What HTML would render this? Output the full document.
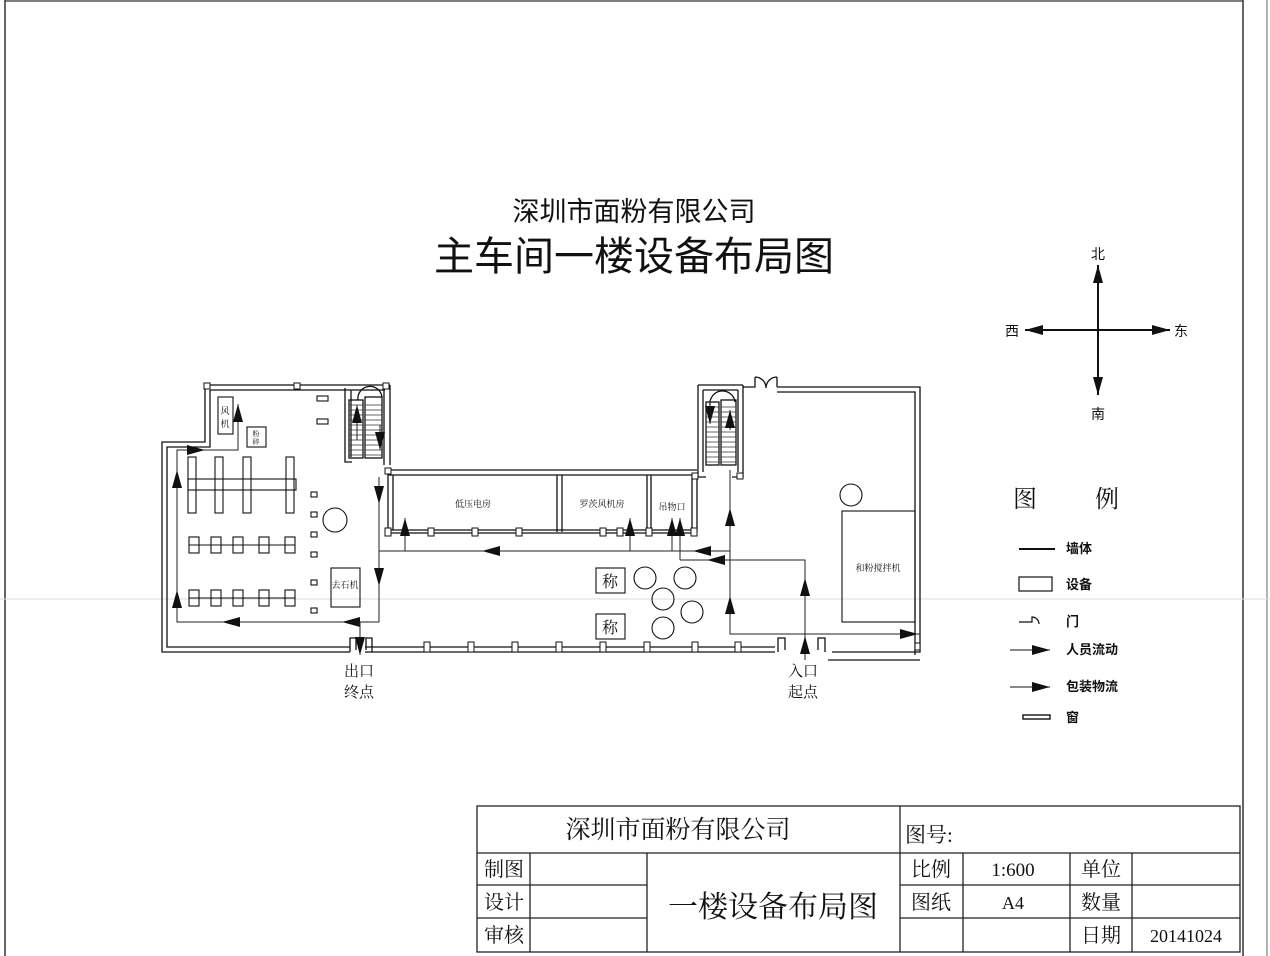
<!DOCTYPE html>
<html><head><meta charset="utf-8"><style>
html,body{margin:0;padding:0;background:#fff;}
svg{display:block;}
text{font-family:"Liberation Serif","Noto Serif CJK SC","Noto Sans CJK SC",serif;fill:#111;}
.s{font-family:"Liberation Sans","Noto Sans CJK SC",sans-serif;}
</style></head><body>
<svg width="1270" height="956" viewBox="0 0 1270 956" xmlns="http://www.w3.org/2000/svg">
<defs>
<marker id="b" markerWidth="18" markerHeight="10" refX="18" refY="5" orient="auto" markerUnits="userSpaceOnUse"><path d="M0,0 L18,5 L0,10 Z" fill="#111"/></marker>
</defs>
<line x1="5" y1="1" x2="1243" y2="1" stroke="#555" stroke-width="1.5"/>
<line x1="5" y1="0" x2="5" y2="956" stroke="#333" stroke-width="1.5"/>
<line x1="1243" y1="0" x2="1243" y2="956" stroke="#333" stroke-width="1.5"/>
<line x1="1267" y1="0" x2="1267" y2="956" stroke="#666" stroke-width="1"/>
<line x1="0" y1="599" x2="1270" y2="599" stroke="#ddd" stroke-width="1"/>

<text class="s" x="634" y="221" font-size="27" text-anchor="middle">深圳市面粉有限公司</text>
<text class="s" x="634" y="270" font-size="40" text-anchor="middle">主车间一楼设备布局图</text>

<g stroke="#111" stroke-width="2" fill="none">
<line x1="1098" y1="395" x2="1098" y2="265" marker-end="url(#b)"/>
<line x1="1098" y1="265" x2="1098" y2="395" marker-end="url(#b)"/>
<line x1="1170" y1="330" x2="1025" y2="330" marker-end="url(#b)"/>
<line x1="1025" y1="330" x2="1170" y2="330" marker-end="url(#b)"/>
</g>
<text class="s" x="1098" y="259" font-size="14" text-anchor="middle">北</text>
<text class="s" x="1098" y="419" font-size="14" text-anchor="middle">南</text>
<text class="s" x="1012" y="336" font-size="14" text-anchor="middle">西</text>
<text class="s" x="1181" y="336" font-size="14" text-anchor="middle">东</text>

<g fill="none" stroke="#111" stroke-width="1.3">
<path d="M205,385 H390 M205,385 V442 H162 V652 H350"/>
<path d="M210,390 H385 M210,390 V447 H167 V647 H350"/>
<path d="M365,652 H775 M365,647 H775"/>
<path d="M832,652 H920 V387 H777 M828,660 H920"/>
<path d="M915,655 V392 H777"/>
<path d="M743,387 H755 V377 M777,387 V377"/>
<path d="M755,377 A11,11 0 0 1 766,388 A11,11 0 0 1 777,377"/>
<path d="M345,388 V462 H352 M351,390 V457"/>
<path d="M390,385 V465 M384,390 V465"/>
<rect x="349" y="400" width="14" height="58"/>
<rect x="365" y="397" width="17" height="61"/>
<path d="M358,400 A12,12 0 0 1 382,397"/>
<path d="M388,470 H697 M388,475 H697"/>
<path d="M388,470 V530 M393,475 V530"/>
<path d="M388,533 H697 M388,530 H697"/>
<path d="M557,475 V532 M562,475 V532"/>
<path d="M647,475 V532 M651,475 V532"/>
<path d="M692,475 V532 M697,475 V532"/>
<path d="M698,385 V477 H706 M703,390 V472"/>
<path d="M743,385 V477 H732 M738,390 V472"/>
<path d="M698,385 H743 M703,390 H738"/>
<rect x="706" y="402" width="13" height="63"/>
<rect x="721" y="400" width="15" height="65"/>
<path d="M710,405 A12,12 0 0 1 735,402"/>
<path d="M350,652 V638 H356 V650 M372,652 V638 H366 V650"/>
<path d="M778,652 V638 H785 V650 M825,652 V638 H818 V650"/>
</g>
<g stroke="#333" stroke-width="0.7">
<path d="M349,405H363M349,410H363M349,415H363M349,420H363M349,425H363M349,430H363M349,435H363M349,440H363M349,445H363M349,450H363M349,455H363"/>
<path d="M365,405H382M365,410H382M365,415H382M365,420H382M365,425H382M365,430H382M365,435H382M365,440H382M365,445H382M365,450H382M365,455H382"/>
<path d="M706,407H719M706,412H719M706,417H719M706,422H719M706,427H719M706,432H719M706,437H719M706,442H719M706,447H719M706,452H719M706,457H719M706,462H719"/>
<path d="M721,407H736M721,412H736M721,417H736M721,422H736M721,427H736M721,432H736M721,437H736M721,442H736M721,447H736M721,452H736M721,457H736M721,462H736"/>
</g>
<g fill="#fff" stroke="#111" stroke-width="1">
<rect x="204" y="383" width="6" height="6"/><rect x="294" y="383" width="6" height="6"/><rect x="383" y="383" width="6" height="6"/>
<rect x="385" y="468" width="6" height="6"/><rect x="385" y="528" width="6" height="8"/>
<rect x="428" y="528" width="6" height="8"/><rect x="472" y="528" width="6" height="8"/><rect x="516" y="528" width="6" height="8"/>
<rect x="600" y="528" width="6" height="8"/>
<rect x="424" y="642" width="6" height="10"/><rect x="468" y="642" width="6" height="10"/><rect x="512" y="642" width="6" height="10"/>
<rect x="556" y="642" width="6" height="10"/><rect x="600" y="642" width="6" height="10"/><rect x="644" y="642" width="6" height="10"/>
<rect x="692" y="642" width="6" height="10"/><rect x="735" y="642" width="6" height="10"/>
<rect x="617" y="528" width="6" height="8"/><rect x="646" y="528" width="6" height="8"/><rect x="691" y="528" width="6" height="8"/>
<rect x="692" y="473" width="6" height="6"/><rect x="737" y="473" width="6" height="6"/>
<rect x="915" y="643" width="5" height="7"/>
</g>

<g fill="none" stroke="#111" stroke-width="1.1">
<rect x="218" y="397" width="15" height="37"/>
<rect x="247" y="427" width="19" height="20"/>
<rect x="188" y="457" width="8" height="56"/><rect x="215" y="457" width="8" height="56"/>
<rect x="243" y="457" width="8" height="56"/><rect x="286" y="457" width="8" height="56"/>
<rect x="188" y="479" width="108" height="11"/>
<rect x="189" y="537" width="10" height="16"/><rect x="211" y="537" width="10" height="16"/><rect x="233" y="537" width="10" height="16"/><rect x="259" y="537" width="10" height="16"/><rect x="285" y="537" width="10" height="16"/>
<line x1="189" y1="545" x2="295" y2="545"/>
<rect x="189" y="590" width="10" height="16"/><rect x="211" y="590" width="10" height="16"/><rect x="233" y="590" width="10" height="16"/><rect x="259" y="590" width="10" height="16"/><rect x="285" y="590" width="10" height="16"/>
<line x1="189" y1="598" x2="295" y2="598"/>
<rect x="317" y="396" width="11" height="5"/><rect x="317" y="419" width="11" height="5"/>
<rect x="311" y="492" width="6" height="5"/><rect x="311" y="512" width="6" height="5"/><rect x="311" y="532" width="6" height="5"/><rect x="311" y="552" width="6" height="5"/><rect x="311" y="580" width="6" height="5"/><rect x="311" y="608" width="6" height="5"/>
<circle cx="335" cy="520" r="12"/>
<rect x="331" y="568" width="29" height="39"/>
<circle cx="851" cy="495" r="11"/>
<rect x="842" y="511" width="73" height="111"/>
<rect x="596" y="568" width="29" height="25"/>
<rect x="596" y="614" width="29" height="25"/>
<circle cx="645" cy="578" r="11"/><circle cx="685" cy="578" r="11"/><circle cx="663" cy="599" r="11"/><circle cx="692" cy="612" r="11"/><circle cx="663" cy="628" r="11"/>
</g>

<g fill="none" stroke="#222" stroke-width="1">
<path d="M379,477 V622 H177 V450 H238 V404"/>
<line x1="177" y1="622" x2="177" y2="590" marker-end="url(#b)"/>
<line x1="177" y1="500" x2="177" y2="470" marker-end="url(#b)"/>
<line x1="180" y1="450" x2="205" y2="450" marker-end="url(#b)"/>
<line x1="238" y1="430" x2="238" y2="404" marker-end="url(#b)"/>
<line x1="280" y1="622" x2="222" y2="622" marker-end="url(#b)"/>
<line x1="370" y1="622" x2="342" y2="622" marker-end="url(#b)"/>
<line x1="379" y1="560" x2="379" y2="586" marker-end="url(#b)"/>
<line x1="379" y1="480" x2="379" y2="504" marker-end="url(#b)"/>
<line x1="357" y1="440" x2="357" y2="405" marker-end="url(#b)"/>
<line x1="380" y1="425" x2="380" y2="450" marker-end="url(#b)"/>
<line x1="360" y1="622" x2="360" y2="655" marker-end="url(#b)"/>
<path d="M379,551 H730 V470"/>
<line x1="500" y1="551" x2="482" y2="551" marker-end="url(#b)"/>
<line x1="720" y1="551" x2="693" y2="551" marker-end="url(#b)"/>
<line x1="405" y1="551" x2="405" y2="518" marker-end="url(#b)"/>
<line x1="630" y1="551" x2="630" y2="518" marker-end="url(#b)"/>
<line x1="672" y1="551" x2="672" y2="518" marker-end="url(#b)"/>
<path d="M680,560 H805 V660"/>
<line x1="680" y1="560" x2="680" y2="518" marker-end="url(#b)"/>
<line x1="740" y1="560" x2="707" y2="560" marker-end="url(#b)"/>
<line x1="805" y1="600" x2="805" y2="578" marker-end="url(#b)"/>
<line x1="805" y1="660" x2="805" y2="636" marker-end="url(#b)"/>
<path d="M730,470 V634 H920"/>
<line x1="730" y1="618" x2="730" y2="596" marker-end="url(#b)"/>
<line x1="730" y1="530" x2="730" y2="508" marker-end="url(#b)"/>
<line x1="890" y1="634" x2="918" y2="634" marker-end="url(#b)"/>
<line x1="730" y1="430" x2="730" y2="410" marker-end="url(#b)"/>
<line x1="710" y1="400" x2="710" y2="424" marker-end="url(#b)"/>
</g>

<g font-size="9">
<text x="473" y="507" text-anchor="middle">低压电房</text>
<text x="602" y="507" text-anchor="middle">罗茨风机房</text>
<text x="672" y="510" text-anchor="middle">吊物口</text>
<text x="878" y="571" text-anchor="middle">和粉搅拌机</text>
<text x="345" y="588" text-anchor="middle">去石机</text>
<text x="225" y="414" text-anchor="middle">风</text><text x="225" y="427" text-anchor="middle">机</text>
<text x="256" y="436" text-anchor="middle" font-size="7">粉</text><text x="256" y="444" text-anchor="middle" font-size="7">碎</text>
</g>
<text x="610" y="587" font-size="16" text-anchor="middle">称</text>
<text x="610" y="633" font-size="16" text-anchor="middle">称</text>
<text x="359" y="676" font-size="15" text-anchor="middle">出口</text>
<text x="359" y="697" font-size="15" text-anchor="middle">终点</text>
<text x="803" y="676" font-size="15" text-anchor="middle">入口</text>
<text x="803" y="697" font-size="15" text-anchor="middle">起点</text>

<text x="1025" y="507" font-size="24" text-anchor="middle">图</text>
<text x="1107" y="507" font-size="24" text-anchor="middle">例</text>
<line x1="1019" y1="549" x2="1055" y2="549" stroke="#111" stroke-width="2"/>
<rect x="1019" y="577" width="33" height="14" fill="none" stroke="#111" stroke-width="1.2"/>
<path d="M1019,622 H1032 V617 A7,7 0 0 1 1039,624" fill="none" stroke="#111" stroke-width="1.2"/>
<line x1="1010" y1="650" x2="1050" y2="650" stroke="#111" stroke-width="1" marker-end="url(#b)"/>
<line x1="1010" y1="687" x2="1050" y2="687" stroke="#111" stroke-width="1" marker-end="url(#b)"/>
<rect x="1023" y="715" width="27" height="4" fill="none" stroke="#111" stroke-width="1.4"/>
<g font-size="13" font-weight="bold">
<text class="s" x="1066" y="553">墙体</text>
<text class="s" x="1066" y="589">设备</text>
<text class="s" x="1066" y="626">门</text>
<text class="s" x="1066" y="654">人员流动</text>
<text class="s" x="1066" y="691">包装物流</text>
<text class="s" x="1066" y="722">窗</text>
</g>

<g fill="none" stroke="#222" stroke-width="1.3">
<rect x="477" y="806" width="763" height="146"/>
<line x1="477" y1="853" x2="1240" y2="853"/>
<line x1="900" y1="806" x2="900" y2="952"/>
<line x1="530" y1="853" x2="530" y2="952"/>
<line x1="647" y1="853" x2="647" y2="952"/>
<line x1="963" y1="853" x2="963" y2="952"/>
<line x1="1070" y1="853" x2="1070" y2="952"/>
<line x1="1132" y1="853" x2="1132" y2="952"/>
<line x1="477" y1="885" x2="647" y2="885"/><line x1="900" y1="885" x2="1240" y2="885"/>
<line x1="477" y1="918" x2="647" y2="918"/><line x1="900" y1="918" x2="1240" y2="918"/>
</g>
<text x="678" y="838" font-size="25" text-anchor="middle">深圳市面粉有限公司</text>
<text x="905" y="842" font-size="21">图号:</text>
<text x="504" y="876" font-size="20" text-anchor="middle">制图</text>
<text x="504" y="909" font-size="20" text-anchor="middle">设计</text>
<text x="504" y="942" font-size="20" text-anchor="middle">审核</text>
<text x="773" y="917" font-size="30" text-anchor="middle">一楼设备布局图</text>
<text x="931" y="876" font-size="20" text-anchor="middle">比例</text>
<text x="1013" y="876" font-size="19" text-anchor="middle">1:600</text>
<text x="1101" y="876" font-size="20" text-anchor="middle">单位</text>
<text x="931" y="909" font-size="20" text-anchor="middle">图纸</text>
<text x="1013" y="909" font-size="18" text-anchor="middle">A4</text>
<text x="1101" y="909" font-size="20" text-anchor="middle">数量</text>
<text x="1101" y="942" font-size="20" text-anchor="middle">日期</text>
<text x="1186" y="942" font-size="18" text-anchor="middle">20141024</text>
</svg>
</body></html>
